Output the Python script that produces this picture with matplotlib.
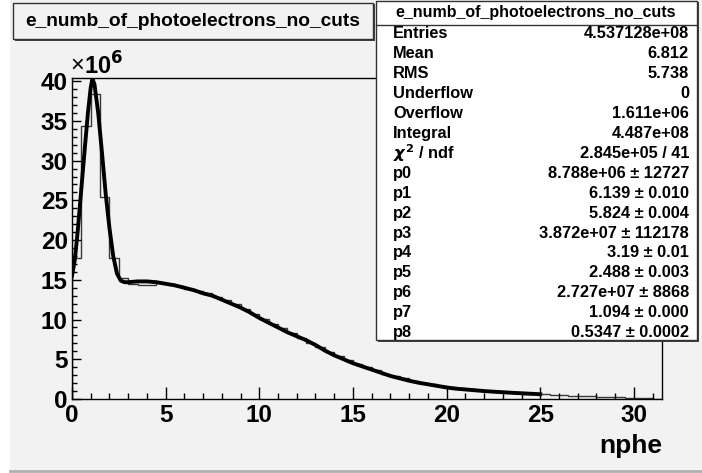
import matplotlib.pyplot as plt
import numpy as np
from matplotlib.patches import Rectangle
from matplotlib.ticker import MultipleLocator

plt.rcParams['font.family'] = ['Liberation Sans', 'DejaVu Sans']
plt.rcParams['font.weight'] = 'bold'

# histogram: 63 bins of width 0.5 from 0 to 31.5, counts in units of 1e6
bin_edges = np.arange(0, 31.51, 0.5)
counts = [17.8, 34.4, 38.4, 25.4, 17.7, 15.2, 14.5, 14.4, 14.4, 14.6,
          14.5, 14.2, 13.9, 13.6, 13.3, 12.8, 12.4, 11.9, 11.3, 10.7,
          10.1, 9.5, 8.9, 8.3, 7.7, 7.1, 6.5, 5.95, 5.4, 4.9,
          4.4, 4.0, 3.6, 3.2, 2.9, 2.6, 2.3, 2.05, 1.85, 1.65,
          1.5, 1.35, 1.2, 1.1, 1.0, 0.9, 0.82, 0.75, 0.68, 0.62,
          0.57, 0.52, 0.48, 0.40, 0.37, 0.34, 0.31, 0.28, 0.25, 0.12,
          0.10, 0.08, 0.06]

# fitted curve
fit_x = [0.0, 0.15, 0.3, 0.5, 0.7, 0.85, 1.0, 1.09, 1.2, 1.4, 1.6, 1.8,
         2.0, 2.2, 2.4, 2.6, 2.8, 3.0, 3.5, 4.0, 4.5, 5.0, 5.5, 6.0, 6.5,
         7.0, 7.5, 8.0, 8.5, 9.0, 9.5, 10.0, 10.5, 11.0, 11.5, 12.0, 12.5,
         13.0, 13.5, 14.0, 14.5, 15.0, 15.5, 16.0, 16.5, 17.0, 17.5, 18.0,
         18.5, 19.0, 19.5, 20.0, 20.5, 21.0, 21.5, 22.0, 22.5, 23.0, 23.5,
         24.0, 24.5, 25.0]
fit_y = [15.5, 17.5, 21.0, 26.5, 32.0, 36.0, 39.2, 40.3, 39.6, 36.0, 31.0,
         25.8, 21.5, 18.0, 15.8, 14.9, 14.7, 14.7, 14.8, 14.8, 14.7, 14.5,
         14.3, 14.0, 13.7, 13.3, 13.0, 12.5, 12.0, 11.5, 10.9, 10.2, 9.6,
         9.0, 8.4, 7.9, 7.4, 6.8, 6.1, 5.5, 5.0, 4.5, 4.1, 3.7, 3.3, 2.9,
         2.6, 2.3, 2.05, 1.85, 1.65, 1.45, 1.3, 1.2, 1.1, 1.0, 0.92, 0.85,
         0.78, 0.72, 0.66, 0.6]

stat_labels = ['Entries', 'Mean', 'RMS', 'Underflow', 'Overflow', 'Integral',
               r'$\chi^{2}$ / ndf', 'p0', 'p1', 'p2', 'p3', 'p4', 'p5', 'p6',
               'p7', 'p8']
stat_values = ['4.537128e+08', '6.812', '5.738', '0', '1.611e+06', '4.487e+08',
               '2.845e+05 / 41', '8.788e+06 \u00b1 12727', '6.139 \u00b1 0.010',
               '5.824 \u00b1 0.004', '3.872e+07 \u00b1 112178', '3.19 \u00b1 0.01',
               '2.488 \u00b1 0.003', '2.727e+07 \u00b1 8868', '1.094 \u00b1 0.000',
               '0.5347 \u00b1 0.0002']

W, H = 702, 473
bg = '#f2f2f2'


def fx(x):
    return x / W


def fy(y):
    return 1 - y / H


fig = plt.figure(figsize=(W / 100, H / 100), dpi=100)
fig.patch.set_facecolor('white')
fig.add_artist(Rectangle((fx(10), fy(470)), 1, 1, transform=fig.transFigure,
                         facecolor=bg, edgecolor='none', zorder=-10))
fig.add_artist(plt.Line2D([fx(10), 1], [fy(471), fy(471)], color='#b0b0b0', lw=2))

ax = fig.add_axes([fx(72), fy(399), fx(662) - fx(72), fy(78) - fy(399)])
ax.set_facecolor(bg)
ax.stairs(counts, bin_edges, color='#383838', lw=1)
ax.plot(fit_x, fit_y, color='black', lw=2.8, solid_joinstyle='round')

ax.set_xlim(0, 31.5)
ax.set_ylim(0, 40.4)
ax.xaxis.set_major_locator(MultipleLocator(5))
ax.xaxis.set_minor_locator(MultipleLocator(1))
ax.yaxis.set_major_locator(MultipleLocator(5))
ax.yaxis.set_minor_locator(MultipleLocator(1))
ax.tick_params(which='both', direction='in', top=False, right=False,
               labelsize=17.5, width=1)
ax.tick_params(axis='x', which='major', length=8.5, pad=3.5)
ax.tick_params(axis='x', which='minor', length=4.3)
ax.tick_params(axis='y', which='major', length=6.5, pad=3)
ax.tick_params(axis='y', which='minor', length=3.6)
for lab in ax.get_xticklabels() + ax.get_yticklabels():
    lab.set_fontweight('bold')
for sp in ax.spines.values():
    sp.set_linewidth(1)

fig.text(fx(70), fy(66), '\u00d7', fontsize=17, fontweight='normal',
         ha='left', va='center')
fig.text(fx(84), fy(66), r'10$^{6}$', fontsize=17, fontweight='bold',
         ha='left', va='center')
fig.text(fx(662), fy(446), 'nphe', fontsize=19, fontweight='bold',
         ha='right', va='center')

# title box
fig.add_artist(Rectangle((fx(15), fy(41)), fx(360), fy(0) - fy(37),
                         transform=fig.transFigure, facecolor='#404040',
                         edgecolor='none'))
fig.add_artist(Rectangle((fx(13), fy(39)), fx(360), fy(0) - fy(36),
                         transform=fig.transFigure, facecolor=bg,
                         edgecolor='#333333', lw=1))
fig.text(fx(193), fy(21), 'e_numb_of_photoelectrons_no_cuts', fontsize=13.8,
         fontweight='bold', ha='center', va='center')

# stats box
fig.add_artist(Rectangle((fx(378), fy(342)), fx(321), fy(0) - fy(340),
                         transform=fig.transFigure, facecolor='#404040',
                         edgecolor='none'))
fig.add_artist(Rectangle((fx(376), fy(340)), fx(321), fy(0) - fy(339),
                         transform=fig.transFigure, facecolor='white',
                         edgecolor='#333333', lw=1))
fig.add_artist(plt.Line2D([fx(376), fx(697)], [fy(25), fy(25)], color='#333333', lw=1))
fig.text(fx(536), fy(13), 'e_numb_of_photoelectrons_no_cuts', fontsize=11.5,
         fontweight='bold', ha='center', va='center')
for i, (lab, val) in enumerate(zip(stat_labels, stat_values)):
    yy = fy(34 + 19.9 * i)
    fig.text(fx(393), yy, lab, fontsize=11.8, fontweight='bold', ha='left', va='center')
    fig.text(fx(689), yy, val, fontsize=11.8, fontweight='bold', ha='right', va='center')

fig.savefig('out.png', dpi=100, facecolor=fig.get_facecolor())
